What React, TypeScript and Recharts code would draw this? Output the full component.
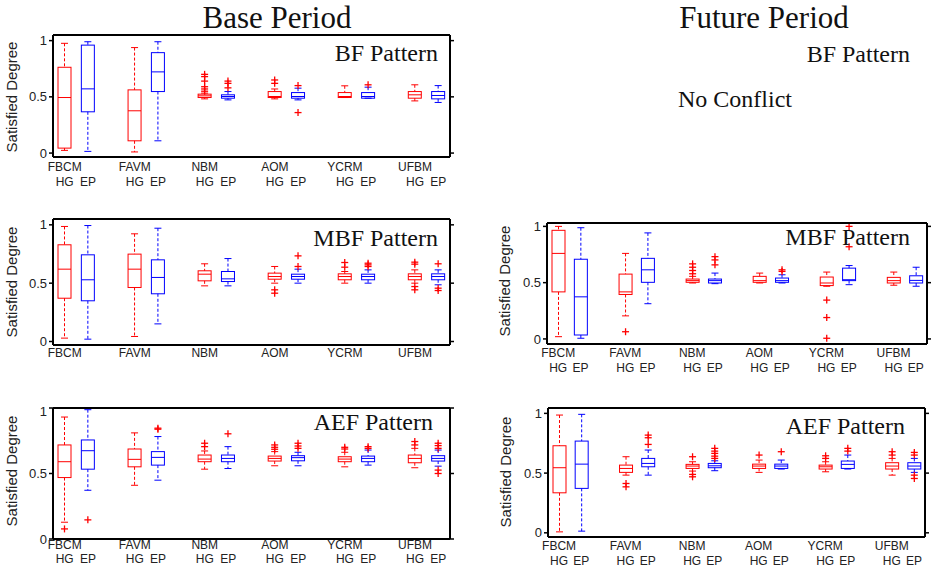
import React from "react";
import { ComposedChart, Bar, XAxis, YAxis, ReferenceLine } from "recharts";

const GROUPS = ["FBCM", "FAVM", "NBM", "AOM", "YCRM", "UFBM"];
const Y_TICKS = [0, 0.5, 1];

// each box: [lower whisker, q1, median, q3, upper whisker]
const baseBfHG = [
  [0.024, 0.044, 0.494, 0.763, 0.976],
  [0.01, 0.109, 0.376, 0.562, 0.938],
  [0.482, 0.494, 0.509, 0.524, 0.533],
  [0.482, 0.494, 0.503, 0.547, 0.57],
  [0.494, 0.494, 0.503, 0.538, 0.598],
  [0.464, 0.488, 0.518, 0.547, 0.607],
];
const baseBfEP = [
  [0.015, 0.367, 0.571, 0.96, 0.99],
  [0.109, 0.547, 0.722, 0.893, 0.99],
  [0.473, 0.488, 0.503, 0.518, 0.547],
  [0.473, 0.488, 0.503, 0.538, 0.577],
  [0.488, 0.488, 0.503, 0.538, 0.586],
  [0.45, 0.482, 0.512, 0.547, 0.6],
];
const baseBfOutHG = [[], [], [0.7, 0.68, 0.64, 0.59, 0.57, 0.55], [0.65, 0.62], [], []];
const baseBfOutEP = [[], [], [0.64, 0.62, 0.58], [0.6, 0.36], [0.607], []];

const baseMbfHG = [
  [0.029, 0.371, 0.62, 0.829, 0.986],
  [0.043, 0.463, 0.62, 0.749, 0.923],
  [0.477, 0.52, 0.577, 0.606, 0.666],
  [0.5, 0.534, 0.557, 0.586, 0.643],
  [0.5, 0.529, 0.557, 0.58, 0.6],
  [0.5, 0.529, 0.557, 0.58, 0.614],
];
const baseMbfEP = [
  [0.02, 0.349, 0.529, 0.743, 0.994],
  [0.151, 0.409, 0.549, 0.7, 0.971],
  [0.477, 0.514, 0.537, 0.6, 0.711],
  [0.5, 0.534, 0.557, 0.577, 0.62],
  [0.5, 0.529, 0.557, 0.577, 0.614],
  [0.486, 0.529, 0.557, 0.58, 0.614],
];
const baseMbfOutHG = [[], [], [], [0.443, 0.414], [0.677, 0.637], [0.68, 0.663, 0.471, 0.443]];
const baseMbfOutEP = [[], [], [], [0.734, 0.643], [0.671, 0.657, 0.643], [0.666, 0.457, 0.437]];

const baseAefHG = [
  [0.128, 0.469, 0.59, 0.718, 0.931],
  [0.41, 0.551, 0.608, 0.687, 0.81],
  [0.533, 0.59, 0.61, 0.641, 0.672],
  [0.559, 0.595, 0.615, 0.633, 0.667],
  [0.551, 0.59, 0.61, 0.628, 0.662],
  [0.544, 0.582, 0.615, 0.641, 0.692],
];
const baseAefEP = [
  [0.372, 0.533, 0.674, 0.756, 0.987],
  [0.449, 0.564, 0.623, 0.667, 0.782],
  [0.538, 0.59, 0.615, 0.641, 0.705],
  [0.559, 0.597, 0.621, 0.636, 0.662],
  [0.564, 0.59, 0.615, 0.633, 0.679],
  [0.556, 0.595, 0.615, 0.636, 0.679],
];
const baseAefOutHG = [[0.077], [], [0.731, 0.705], [0.718, 0.7, 0.685], [0.7, 0.687], [0.744, 0.718]];
const baseAefOutEP = [[0.146], [0.846, 0.838], [0.803], [0.731, 0.71, 0.692], [0.705, 0.692], [0.731, 0.713, 0.692, 0.526, 0.5]];

const futMbfHG = [
  [0.02, 0.418, 0.76, 0.965, 1.0],
  [0.205, 0.395, 0.418, 0.576, 0.76],
  [0.497, 0.503, 0.518, 0.532, 0.556],
  [0.497, 0.503, 0.518, 0.556, 0.585],
  [0.468, 0.474, 0.497, 0.55, 0.594],
  [0.477, 0.497, 0.518, 0.547, 0.594],
];
const futMbfEP = [
  [0.006, 0.035, 0.374, 0.708, 0.988],
  [0.313, 0.503, 0.614, 0.716, 0.942],
  [0.491, 0.497, 0.518, 0.532, 0.585],
  [0.497, 0.503, 0.518, 0.541, 0.57],
  [0.482, 0.518, 0.526, 0.629, 0.652],
  [0.468, 0.497, 0.52, 0.561, 0.637],
];
const futMbfOutHG = [[], [0.064], [0.667, 0.637, 0.608, 0.579], [], [0.345, 0.19, 0.006], []];
const futMbfOutEP = [[], [], [0.731, 0.702, 0.658], [0.614, 0.6], [1.0, 0.819], []];

const futAefHG = [
  [0.008, 0.335, 0.545, 0.729, 0.986],
  [0.483, 0.506, 0.539, 0.567, 0.637],
  [0.517, 0.539, 0.559, 0.573, 0.595],
  [0.506, 0.539, 0.559, 0.575, 0.609],
  [0.511, 0.534, 0.553, 0.567, 0.595],
  [0.483, 0.534, 0.559, 0.587, 0.623],
];
const futAefEP = [
  [0.014, 0.372, 0.575, 0.768, 0.992],
  [0.483, 0.553, 0.581, 0.623, 0.693],
  [0.52, 0.545, 0.561, 0.581, 0.603],
  [0.534, 0.539, 0.559, 0.575, 0.609],
  [0.534, 0.539, 0.573, 0.601, 0.651],
  [0.506, 0.534, 0.559, 0.587, 0.623],
];
const futAefOutHG = [[], [0.413, 0.385], [0.637, 0.489, 0.469], [0.651], [0.645, 0.623], [0.679, 0.651]];
const futAefOutEP = [[], [0.818, 0.796, 0.74], [0.707, 0.684, 0.665, 0.642, 0.623], [0.679], [0.707, 0.684], [0.673, 0.651, 0.483, 0.455]];

const RED = "#ff0000";
const BLUE = "#0000ff";
const SANS = "Arial, 'Liberation Sans', Helvetica, sans-serif";
const SERIF = "'Times New Roman', 'Liberation Serif', Times, serif";

function buildSlots(hg: number[][], ep: number[][], hgOut: number[][], epOut: number[][]) {
  const rows: any[] = [];
  GROUPS.forEach((g, i) => {
    rows.push({ key: g + "-HG", group: g, series: "HG", stats: hg[i], out: hgOut[i] });
    rows.push({ key: g + "-EP", group: g, series: "EP", stats: ep[i], out: epOut[i] });
    if (i < GROUPS.length - 1) rows.push({ key: g + "-gap", group: g, series: "" });
  });
  return rows;
}

const PANELS = [
  { id: "bbf", left: 53, top: 35, w: 397, h: 122, domain: [-0.035, 1.05], data: buildSlots(baseBfHG, baseBfEP, baseBfOutHG, baseBfOutEP), two: true, l1: 14, l2: 29 },
  { id: "bmbf", left: 53, top: 219, w: 397, h: 126, domain: [-0.03, 1.05], data: buildSlots(baseMbfHG, baseMbfEP, baseMbfOutHG, baseMbfOutEP), two: false, l1: 12, l2: 27 },
  { id: "baef", left: 53, top: 408, w: 397, h: 131, domain: [0, 1], data: buildSlots(baseAefHG, baseAefEP, baseAefOutHG, baseAefOutEP), two: true, l1: 10, l2: 24 },
  { id: "fmbf", left: 547, top: 223, w: 380, h: 121, domain: [-0.045, 1.03], data: buildSlots(futMbfHG, futMbfEP, futMbfOutHG, futMbfOutEP), two: true, l1: 13, l2: 28 },
  { id: "faef", left: 548, top: 408, w: 377, h: 129, domain: [-0.035, 1.045], data: buildSlots(futAefHG, futAefEP, futAefOutHG, futAefOutEP), two: true, l1: 13, l2: 28 },
];

function BoxShape(props: any) {
  const { x, y, width, height, payload } = props;
  const s = payload && payload.stats;
  if (!s || !(height > 0)) return null;
  const [lo, q1, med, q3, hi] = s;
  const py = (v: number) => y + (height * (hi - v)) / (hi - lo);
  const c = payload.series === "HG" ? RED : BLUE;
  const cx = x + width / 2;
  const cap = 3.5;
  return (
    <g>
      <line x1={cx} x2={cx} y1={py(hi)} y2={py(q3)} stroke={c} strokeDasharray="3 2" />
      <line x1={cx} x2={cx} y1={py(q1)} y2={py(lo)} stroke={c} strokeDasharray="3 2" />
      <line x1={cx - cap} x2={cx + cap} y1={py(hi)} y2={py(hi)} stroke={c} />
      <line x1={cx - cap} x2={cx + cap} y1={py(lo)} y2={py(lo)} stroke={c} />
      <rect x={x} y={py(q3)} width={width} height={Math.max(py(q1) - py(q3), 0.5)} fill="none" stroke={c} />
      <line x1={x} x2={x + width} y1={py(med)} y2={py(med)} stroke={c} />
      {(payload.out || []).map((v: number, i: number) => {
        const oy = py(v);
        return (
          <g key={i}>
            <line x1={cx - 3.5} x2={cx + 3.5} y1={oy} y2={oy} stroke={RED} strokeWidth={1.3} />
            <line x1={cx} x2={cx} y1={oy - 3.5} y2={oy + 3.5} stroke={RED} strokeWidth={1.3} />
          </g>
        );
      })}
    </g>
  );
}

function makeTick(two: boolean, l1: number, l2: number) {
  return (props: any) => {
    const { x, y, payload } = props;
    const [group, series] = String(payload.value).split("-");
    const st = { fontFamily: SANS, fontSize: 12, fill: "#222" };
    return (
      <g>
        {series === "HG" && (
          <text x={x} y={y + l1} textAnchor="middle" {...st}>{group}</text>
        )}
        {two && (series === "HG" || series === "EP") && (
          <text x={x} y={y + l2} textAnchor="middle" {...st}>{series}</text>
        )}
      </g>
    );
  };
}

function Panel({ p }: { p: any }) {
  return (
    <div style={{ position: "absolute", left: p.left - 45, top: p.top - 5 }}>
      <ComposedChart
        width={p.w + 62}
        height={p.h + 45}
        data={p.data}
        margin={{ top: 5, right: 5, left: 5, bottom: 0 }}
      >
        <XAxis
          dataKey="key"
          type="category"
          interval={0}
          height={40}
          tickSize={0}
          tickMargin={0}
          tickLine={false}
          axisLine={{ stroke: "#000", strokeWidth: 2 }}
          tick={makeTick(p.two, p.l1, p.l2)}
        />
        <YAxis
          type="number"
          domain={p.domain}
          allowDataOverflow
          ticks={Y_TICKS}
          width={40}
          tickSize={4}
          tickMargin={2}
          axisLine={{ stroke: "#000", strokeWidth: 2 }}
          tickLine={{ stroke: "#000", strokeWidth: 1.5 }}
          tick={{ fontFamily: SANS, fontSize: 13, fill: "#222" }}
        />
        <YAxis
          yAxisId="r"
          orientation="right"
          type="number"
          domain={p.domain}
          allowDataOverflow
          ticks={Y_TICKS}
          width={12}
          tickSize={4}
          axisLine={{ stroke: "#000", strokeWidth: 2 }}
          tickLine={{ stroke: "#000", strokeWidth: 1.5 }}
          tick={() => <g />}
        />
        <ReferenceLine y={p.domain[1]} stroke="#000" strokeWidth={2} />
        <Bar
          dataKey={(d: any) => (d.stats ? [d.stats[0], d.stats[4]] : null)}
          barSize={13}
          shape={BoxShape}
          isAnimationActive={false}
        />
      </ComposedChart>
    </div>
  );
}

const YLABELS = [
  { x: 17, y: 97 },
  { x: 17, y: 282 },
  { x: 17, y: 471 },
  { x: 510, y: 281 },
  { x: 511, y: 472 },
];

export default function App() {
  return (
    <div style={{ position: "absolute", left: 0, top: 0, width: 931, height: 570, background: "#fff" }}>
      {PANELS.map((p) => (
        <Panel key={p.id} p={p} />
      ))}
      <svg width={931} height={570} style={{ position: "absolute", left: 0, top: 0, pointerEvents: "none" }}>
        <g fontFamily={SERIF} fill="#111">
          <text x={277} y={28} fontSize={31} textAnchor="middle">Base Period</text>
          <text x={764} y={28} fontSize={31} textAnchor="middle">Future Period</text>
          <text x={438} y={61} fontSize={24} textAnchor="end">BF Pattern</text>
          <text x={438} y={246} fontSize={24} textAnchor="end">MBF Pattern</text>
          <text x={433} y={430} fontSize={24} textAnchor="end">AEF Pattern</text>
          <text x={910} y={245} fontSize={24} textAnchor="end">MBF Pattern</text>
          <text x={905} y={434} fontSize={24} textAnchor="end">AEF Pattern</text>
          <text x={910} y={62} fontSize={24} textAnchor="end">BF Pattern</text>
          <text x={678} y={107} fontSize={24}>No Conflict</text>
        </g>
        {YLABELS.map((l, i) => (
          <text
            key={i}
            x={l.x}
            y={l.y}
            transform={`rotate(-90 ${l.x} ${l.y})`}
            textAnchor="middle"
            fontFamily={SANS}
            fontSize={15}
            fill="#222"
          >
            Satisfied Degree
          </text>
        ))}
      </svg>
    </div>
  );
}
